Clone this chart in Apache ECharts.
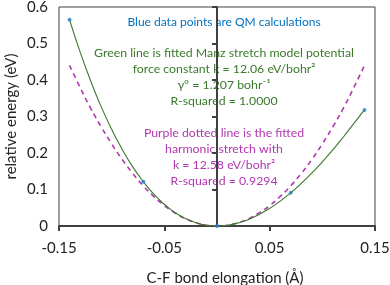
<!DOCTYPE html>
<html><head><meta charset="utf-8">
<script src="https://cdn.jsdelivr.net/npm/echarts@6/dist/echarts.min.js"></script>
<style>html,body{margin:0;padding:0;background:#fff}#c{width:390px;height:285px}</style>
</head><body><div id="c"></div>
<script>
// QM calculation points
const qmX = [-0.14, -0.07, 0, 0.07, 0.14];
const qmE = [0.565, 0.121, 0, 0.091, 0.318];
// fitted curves
const fitX = [-0.14,-0.13,-0.12,-0.11,-0.10,-0.09,-0.08,-0.07,-0.06,-0.05,-0.04,-0.03,-0.02,-0.01,0,
  0.01,0.02,0.03,0.04,0.05,0.06,0.07,0.08,0.09,0.10,0.11,0.12,0.13,0.14];
const manzE = [0.565,0.477,0.398,0.327,0.265,0.210,0.162,0.122,0.087,0.0595,0.037,0.0206,0.0089,0.0022,0,
  0.0021,0.0082,0.0181,0.0316,0.0483,0.0682,0.091,0.1167,0.1449,0.1756,0.2086,0.2439,0.2812,0.318];
const harmE = [0.440,0.380,0.323,0.272,0.225,0.182,0.144,0.110,0.081,0.056,0.036,0.020,0.009,0.0022,0,
  0.0022,0.009,0.020,0.036,0.056,0.081,0.110,0.144,0.182,0.225,0.272,0.323,0.380,0.440];
const xTicks = [-0.15, -0.05, 0.05, 0.15];
const yTicks = [0, 0.1, 0.2, 0.3, 0.4, 0.5, 0.6];

const blueText = ['Blue data points are QM calculations'];
const greenText = ['Green line is fitted Manz stretch model potential',
  'force constant k = 12.06 eV/bohr\u00B2', '\u03B3\u00B0 = 1.207 bohr\u207B\u00B9', 'R-squared = 1.0000'];
const purpleText = ['Purple dotted line is the fitted', 'harmonic stretch with',
  'k = 12.58 eV/bohr\u00B2', 'R-squared = 0.9294'];

const FONT = 'Lato';
const cBlue = '#0070C0', cGreen = '#3A7A2A', cPurple = '#B038B0';

const chart = echarts.init(document.getElementById('c'), null, {renderer: 'canvas'});
const pairs = (xs, ys) => xs.map((x, i) => [x, ys[i]]);
const graphic = [];
function addLines(lines, color, y0, size) {
  lines.forEach((t, i) => graphic.push({type: 'text', x: 224, y: y0 + i * 16,
    style: {text: t, fill: color, font: size + 'px ' + FONT, textAlign: 'center', textVerticalAlign: 'middle'}}));
}
addLines(blueText, cBlue, 22, 12);
addLines(greenText, cGreen, 53, 12.3);
addLines(purpleText, cPurple, 133, 12.3);

chart.setOption({
  animation: false,
  grid: {left: 59, right: 15, top: 7, bottom: 59, show: true, borderColor: '#404040', borderWidth: 1,
    containLabel: false, outerBoundsMode: 'none'},
  xAxis: {type: 'value', min: -0.15, max: 0.15, interval: 0.1,
    axisLine: {show: true, onZero: false, lineStyle: {color: '#404040', width: 2}},
    axisTick: {show: true, length: 5, lineStyle: {color: '#404040', width: 2}},
    splitLine: {show: false},
    axisLabel: {color: '#222', fontSize: 15, fontFamily: FONT, margin: 15,
      formatter: v => { const m = xTicks.find(t => Math.abs(t - v) < 1e-6); return m === undefined ? '' : m.toFixed(2); }},
    name: 'C-F bond elongation (\u00C5)', nameLocation: 'middle', nameGap: 45, nameMoveOverlap: false,
    nameTextStyle: {color: '#222', fontSize: 15, fontFamily: FONT, padding: [0, 0, 0, 16]}},
  yAxis: {type: 'value', min: 0, max: 0.6, interval: 0.1,
    axisLine: {show: true, lineStyle: {color: '#404040', width: 2}},
    axisTick: {show: true, length: 5, lineStyle: {color: '#404040', width: 2}},
    splitLine: {show: false},
    axisLabel: {color: '#222', fontSize: 15, fontFamily: FONT, margin: 11,
      formatter: v => { const m = yTicks.find(t => Math.abs(t - v) < 1e-6); return m === undefined ? '' : (m === 0 ? '0' : m.toFixed(1)); }},
    name: 'relative energy (eV)', nameLocation: 'middle', nameGap: 40, nameMoveOverlap: false,
    nameTextStyle: {color: '#222', fontSize: 15, fontFamily: FONT}},
  graphic: graphic,
  series: [
    {type: 'line', data: pairs(fitX, harmE), smooth: true, showSymbol: false, z: 2,
      lineStyle: {color: cPurple, width: 1.6, type: [5, 4]}},
    {type: 'line', data: pairs(fitX, manzE), smooth: true, showSymbol: false, z: 3,
      lineStyle: {color: cGreen, width: 1.1}},
    {type: 'scatter', data: pairs(qmX, qmE), symbolSize: 4, z: 4,
      itemStyle: {color: '#1F7FC8'}}
  ]
});
</script></body></html>
